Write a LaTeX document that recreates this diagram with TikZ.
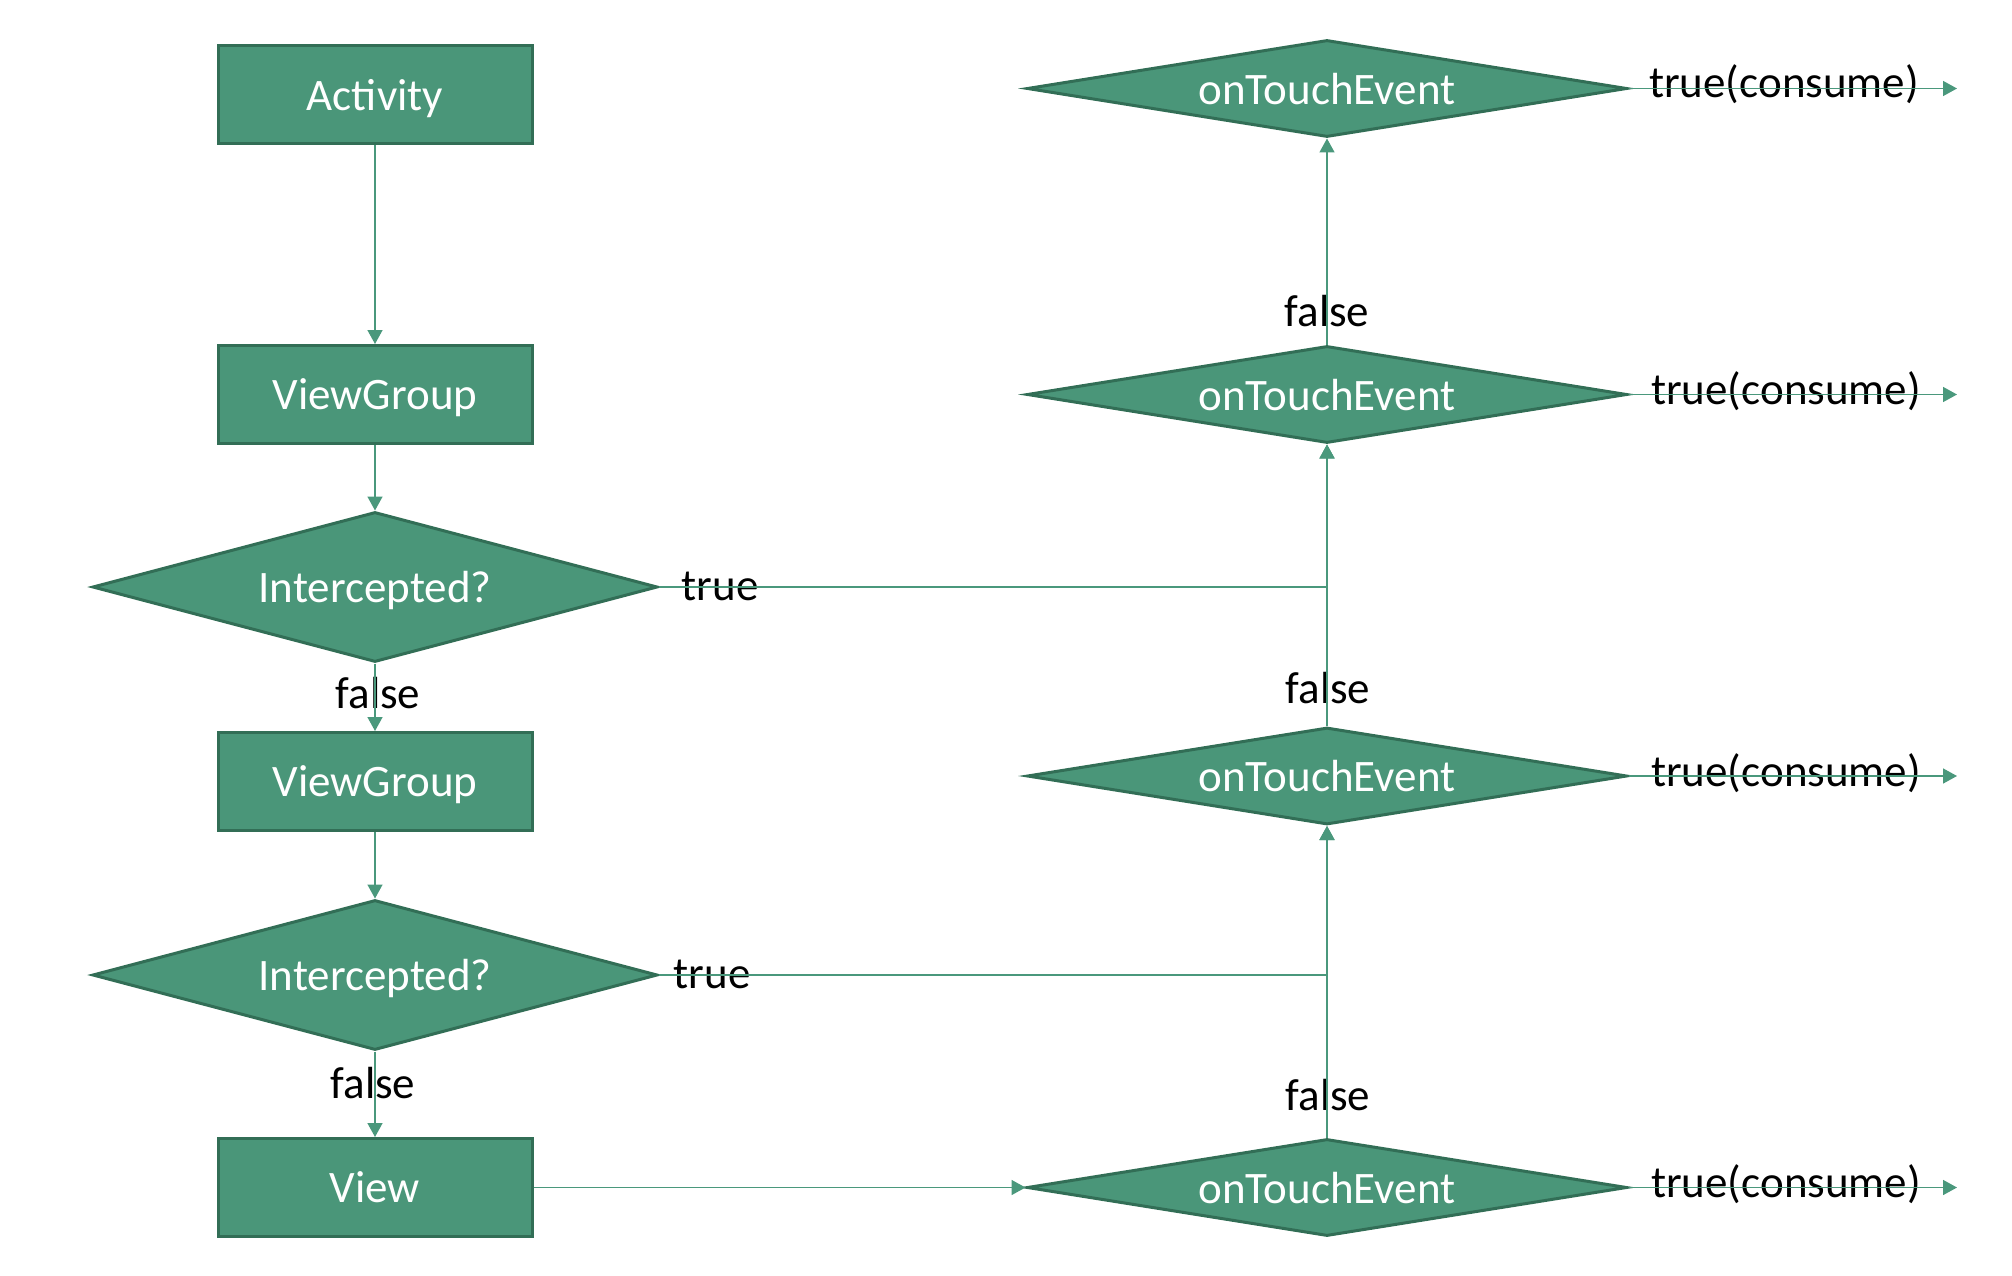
\documentclass[tikz,border=0pt]{standalone}
\usepackage{fontspec}
\setmainfont{Carlito}
\usetikzlibrary{shapes.geometric,arrows.meta}
\definecolor{boxfill}{RGB}{74,150,121}
\definecolor{boxline}{RGB}{50,110,86}
\definecolor{conn}{RGB}{74,152,124}
\tikzset{
  box/.style={rectangle, draw=boxline, fill=boxfill, line width=3pt, minimum width=314pt, minimum height=98pt, text=white, font=\fontsize{45}{54}\selectfont, inner sep=0pt, text depth=0pt},
  decision/.style={diamond, draw=boxline, fill=boxfill, line width=3pt, text=white, font=\fontsize{45}{54}\selectfont, inner sep=0pt, text depth=0pt},
  bigdec/.style={decision, shape aspect=3.78, minimum width=565pt, minimum height=150pt},
  touch/.style={decision, shape aspect=6.29, minimum width=600pt, minimum height=97pt},
  conn/.style={draw=conn, line width=1.5pt, -{Triangle[length=14pt,width=15pt]}},
  lbl/.style={text=black, font=\fontsize{45}{54}\selectfont, anchor=base, inner sep=0pt}
}
\begin{document}
\begin{tikzpicture}[x=1pt,y=-1pt]
\useasboundingbox (0,0) rectangle (2012,1276);
% left column
\node[box] (act) at (375,95) {Activity};
\node[box] (vg1) at (375,394.5) {ViewGroup};
\node[bigdec] (int1) at (375,587) {Intercepted?};
\node[box] (vg2) at (375,781.5) {ViewGroup};
\node[bigdec] (int2) at (375,975) {Intercepted?};
\node[box] (view) at (375,1187.5) {View};
% right column
\node[touch] (d1) at (1327,88.5) {onTouchEvent};
\node[touch] (d2) at (1327,394.5) {onTouchEvent};
\node[touch] (d3) at (1327,776) {onTouchEvent};
\node[touch] (d4) at (1327,1187.5) {onTouchEvent};
% consume end points
\coordinate (e1) at (1957,88.5);
\coordinate (e2) at (1957,394.5);
\coordinate (e3) at (1957,776);
\coordinate (e4) at (1957,1187.5);
% labels
\node[lbl] (t1) at (720,600) {true};
\node[lbl] (t2) at (712,988) {true};
\node[lbl] (f1) at (378,708) {false};
\node[lbl] (f2) at (373,1098) {false};
\node[lbl] (f3) at (1327,326) {false};
\node[lbl] (f4) at (1328,703) {false};
\node[lbl] (f5) at (1328,1110) {false};
\node[lbl] (c1) at (1784,98) {true(consume)};
\node[lbl] (c2) at (1786,404) {true(consume)};
\node[lbl] (c3) at (1786,786) {true(consume)};
\node[lbl] (c4) at (1786,1197) {true(consume)};
% connectors
\draw[conn] (act) -- (vg1);
\draw[conn] (vg1) -- (int1);
\draw[conn] (int1) -- (vg2);
\draw[conn] (vg2) -- (int2);
\draw[conn] (int2) -- (view);
\draw[conn] (view) -- (d4);
\draw[conn] (d4) -- (d3);
\draw[conn] (d3) -- (d2);
\draw[conn] (d2) -- (d1);
\draw[conn] (int1.east) -| (d2.south);
\draw[conn] (int2.east) -| (d3.south);
\draw[conn] (d1.east) -- (e1);
\draw[conn] (d2.east) -- (e2);
\draw[conn] (d3.east) -- (e3);
\draw[conn] (d4.east) -- (e4);
\end{tikzpicture}
\end{document}
